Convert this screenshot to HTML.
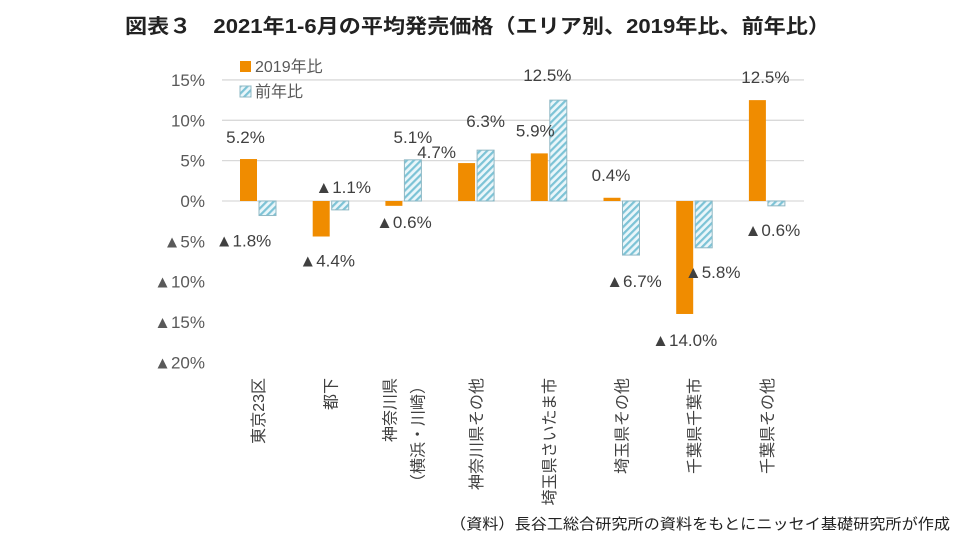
<!DOCTYPE html>
<html><head><meta charset="utf-8"><style>
body{margin:0;background:#fff;width:960px;height:540px;overflow:hidden;font-family:"Liberation Sans","Noto Sans CJK JP",sans-serif}
</style></head><body>
<svg width="960" height="540" xmlns="http://www.w3.org/2000/svg">
<defs><pattern id="hatch" width="5" height="5" patternUnits="userSpaceOnUse" patternTransform="rotate(45)"><rect width="5" height="5" fill="#eaf6fa"/><rect width="2.2" height="5" fill="#7cc3d6"/></pattern></defs>
<text x="125" y="33" font-size="20" font-weight="bold" fill="#222" textLength="705" lengthAdjust="spacingAndGlyphs">図表３　2021年1-6月の平均発売価格（エリア別、2019年比、前年比）</text>
<g id="grid"></g><g id="bars"></g><g id="labels"></g>
<g>
<rect x="240" y="61" width="11" height="11" fill="#f08c00"/>
<text x="255" y="72" font-size="16" fill="#595959">2019年比</text>
<rect x="240" y="86" width="11" height="11" fill="url(#hatch)" stroke="#8fb8c4"/>
<text x="255" y="97" font-size="16" fill="#595959">前年比</text>
</g>
<text x="450" y="529" font-size="15" fill="#222" textLength="500" lengthAdjust="spacingAndGlyphs">（資料）長谷工総合研究所の資料をもとにニッセイ基礎研究所が作成</text>
</svg>
<script>
const categories=["東京23区","都下","神奈川県\n（横浜・川崎）","神奈川県その他","埼玉県さいたま市","埼玉県その他","千葉県千葉市","千葉県その他"];
const vs2019=[5.2,-4.4,-0.6,4.7,5.9,0.4,-14.0,12.5];
const vsPrev=[-1.8,-1.1,5.1,6.3,12.5,-6.7,-5.8,-0.6];
const yTicks=[15,10,5,0,-5,-10,-15,-20];
const off2019=[[-3,-22],[6,24],[10,16],[-30,-11],[-4,-23],[-1,-23],[0,26],[8,-23]];
const offPrev=[[-24,25],[3,-23],[0,-23],[0,-29],[-11,-25],[3,26],[9,24],[-4,24]];
const NS="http://www.w3.org/2000/svg";
const y=v=>201-v*8.07;
const x=i=>258+i*72.7;
const fmt=v=>(v<0?"▲":"")+Math.abs(v).toFixed(1)+"%";
function mk(tag,attrs,parent){const e=document.createElementNS(NS,tag);for(const k in attrs)e.setAttribute(k,attrs[k]);parent.appendChild(e);return e;}
const grid=document.getElementById('grid'),bars=document.getElementById('bars'),labels=document.getElementById('labels');
yTicks.forEach(t=>{
 if(t>=0){const l=mk('line',{x1:222,x2:804,y1:y(t),y2:y(t),stroke:'#d9d9d9','stroke-width':1.3},grid);
 
 }
 const tx=mk('text',{x:205,y:y(t)+6,'text-anchor':'end','font-size':17,fill:'#595959'},grid);
 tx.textContent=(t<0?"▲":"")+Math.abs(t)+"%";
 
 
});
categories.forEach((c,i)=>{
 const a=vs2019[i],b=vsPrev[i];
 const r1=mk('rect',{x:x(i)-18,width:17,y:Math.min(y(a),y(0)),height:Math.abs(y(a)-y(0)),fill:'#f08c00'},bars);
 
 
 const r2=mk('rect',{x:x(i)+1,width:17,y:Math.min(y(b),y(0)),height:Math.abs(y(b)-y(0)),fill:'url(#hatch)',stroke:'#8fb8c4','stroke-width':1},bars);
 
 
 const l1=mk('text',{x:x(i)-9.5+off2019[i][0],y:y(a)+off2019[i][1]+6,'text-anchor':'middle','font-size':17,fill:'#404040'},labels);
 l1.textContent=fmt(a);
 
 
 const l2=mk('text',{x:x(i)+9.5+offPrev[i][0],y:y(b)+offPrev[i][1]+6,'text-anchor':'middle','font-size':17,fill:'#404040'},labels);
 l2.textContent=fmt(b);
 
 
 const lines=c.split("\n");
 lines.forEach((s,j)=>{
  const cx=x(i)+(j-(lines.length-1)/2)*28+6;
  const t=mk('text',{x:0,y:0,'font-size':16,fill:'#404040','text-anchor':'end',transform:`translate(${cx},378) rotate(-90)`},grid);
  t.textContent=s;
  
  
 });
});
</script>
</body></html>
